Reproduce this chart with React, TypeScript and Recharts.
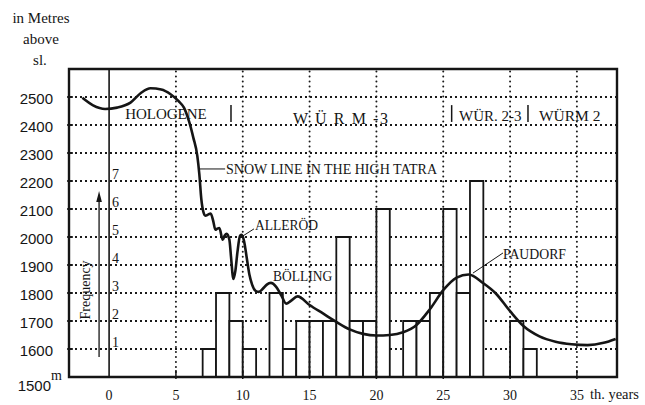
import React from "react";
import {
  ComposedChart,
  Line,
  ReferenceArea,
  ReferenceLine,
  Scatter,
  XAxis,
  YAxis,
} from "recharts";

// snow line in the High Tatra (thousand years BP -> metres a.s.l.)
const snowYears = [
  -2.0, -1.2, -0.3, 0.6, 1.6, 2.4, 3.1, 3.9, 4.6, 5.2, 5.6, 6.0, 6.3, 6.6, 6.75,
  6.9, 7.05, 7.2, 7.4, 7.6, 7.8, 7.95, 8.1, 8.25, 8.5, 8.65, 8.8, 9.0, 9.12, 9.3,
  9.45, 9.6, 9.8, 9.92, 10.1, 10.3, 10.5, 10.7, 10.95, 11.2, 11.5, 11.8, 12.1,
  12.5, 12.9, 13.25, 13.6, 14.1, 15.0, 16.0, 17.0, 18.0, 19.0, 20.0, 21.0, 22.0,
  23.0, 24.0, 25.0, 26.0, 26.9, 28.0, 28.9, 30.0, 31.0, 32.2, 33.4, 34.6, 35.8,
  37.0, 37.9,
];
const snowAltitude = [
  2497, 2470, 2457, 2462, 2480, 2515, 2531, 2527, 2510, 2485, 2462, 2410, 2355,
  2290, 2225, 2135, 2090, 2076, 2080, 2084, 2055, 2026, 2030, 2032, 1990, 2005,
  2011, 1990, 1930, 1850, 1880, 1945, 2005, 2008, 1985, 1925, 1865, 1830, 1808,
  1804, 1815, 1830, 1836, 1822, 1790, 1762, 1772, 1788, 1757, 1727, 1697, 1670,
  1654, 1648, 1650, 1660, 1686, 1742, 1810, 1855, 1866, 1835, 1800, 1735, 1682,
  1645, 1626, 1617, 1614, 1622, 1636,
];

// histogram: start of each 1000-year class and its frequency
const classStart = [7, 8, 9, 10, 12, 13, 14, 15, 16, 17, 18, 19, 20, 22, 23, 24, 25, 26, 27, 30, 31];
const frequency = [1, 3, 2, 1, 3, 1, 2, 2, 2, 5, 2, 2, 6, 2, 2, 3, 6, 3, 7, 2, 1];

const freqLevels = [1, 2, 3, 4, 5, 6, 7];
const altTicks = [1500, 1600, 1700, 1800, 1900, 2000, 2100, 2200, 2300, 2400, 2500];
const yearTicks = [0, 5, 10, 15, 20, 25, 30, 35];

const X_MIN = -3;
const X_MAX = 38;
const Y_MIN = 1500;
const Y_MAX = 2600;
const BASE = 1500;
const STEP = 100;
const DOT_HALF = 3.5; // half thickness of a dotted row, in metres

const SERIF = '"Liberation Serif", "DejaVu Serif", serif';
const SANS = '"Liberation Sans", Arial, sans-serif';
const INK = "#151515";

// vertical dotted grid: round dots every 5px
const dotted = {
  stroke: "#1a1a1a",
  strokeWidth: 2,
  strokeDasharray: "0.01 5",
  strokeLinecap: "round" as const,
};

const snowData = snowYears.map((x, i) => ({ x, y: snowAltitude[i] }));
const freqData = freqLevels.map((n) => ({ x: 0, y: BASE + STEP * n, n }));

// labels placed in chart units
const notes = [
  { x: 1.2, y: 2421, text: "HOLOGENE", size: 15 },
  { x: 13.76, y: 2404, text: "W Ü R M -3", size: 16, spacing: 1.6 },
  { x: 26.18, y: 2416, text: "WÜR. 2-3", size: 15 },
  { x: 32.16, y: 2416, text: "WÜRM 2", size: 15.5 },
  { x: 8.75, y: 2225, text: "SNOW LINE IN THE HIGH TATRA", size: 15, len: 211 },
  { x: 10.92, y: 2025, text: "ALLERÖD", size: 14, len: 63 },
  { x: 12.27, y: 1843, text: "BÖLLING", size: 14, len: 59 },
  { x: 29.47, y: 1921, text: "PAUDORF", size: 14, len: 63 },
];
const dividers = [9.12, 25.63, 31.34];
const leaders = [
  [{ x: 6.73, y: 2243 }, { x: 8.68, y: 2243 }],
  [{ x: 10.02, y: 2004 }, { x: 10.84, y: 2029 }],
  [{ x: 27.22, y: 1871 }, { x: 29.47, y: 1943 }],
];

function AltTick({ x, y, payload }: any) {
  const v = payload.value;
  if (v === BASE) {
    return (
      <g>
        <text x={x - 16} y={y + 14} textAnchor="end" fontFamily={SANS} fontSize={15} fill={INK}>
          {v}
        </text>
        <text x={x - 16} y={y + 3} fontFamily={SERIF} fontSize={14} fill={INK}>
          m
        </text>
      </g>
    );
  }
  return (
    <g>
      <line x1={x} x2={x + 6} y1={y} y2={y} stroke={INK} strokeWidth={1.6} />
      <text x={x - 14} y={y + 7} textAnchor="end" fontFamily={SANS} fontSize={15} fill={INK}>
        {v}
      </text>
    </g>
  );
}

function YearTick({ x, y, payload }: any) {
  const v = payload.value;
  return (
    <g>
      {v !== 0 && <line x1={x} x2={x} y1={y} y2={y - 9} stroke={INK} strokeWidth={1.5} />}
      <text x={x} y={y + 21} textAnchor="middle" fontFamily={SERIF} fontSize={14} fill={INK}>
        {v}
      </text>
      {v === 35 && (
        <text x={x + 13} y={y + 20} fontFamily={SERIF} fontSize={14.5} fill={INK}>
          th. years
        </text>
      )}
    </g>
  );
}

function NoteShape(props: any) {
  const p = props.payload;
  return (
    <text
      x={props.cx}
      y={props.cy}
      fontFamily={SERIF}
      fontSize={p.size}
      letterSpacing={p.spacing}
      textLength={p.len}
      lengthAdjust={p.len ? "spacingAndGlyphs" : undefined}
      fill={INK}
    >
      {p.text}
    </text>
  );
}

function FreqShape(props: any) {
  return (
    <text x={props.cx + 3} y={props.cy - 2.5} fontFamily={SERIF} fontSize={14} fill={INK}>
      {props.payload.n}
    </text>
  );
}

function ArrowHead(props: any) {
  const { cx, cy } = props;
  return <path d={`M${cx},${cy} L${cx - 2.8},${cy + 11} L${cx + 2.8},${cy + 11} Z`} fill={INK} />;
}

function FreqTitle(props: any) {
  const { cx, cy } = props;
  return (
    <text
      x={cx}
      y={cy}
      transform={`rotate(-90 ${cx} ${cy})`}
      textAnchor="middle"
      fontFamily={SERIF}
      fontSize={14}
      fill={INK}
    >
      Frequency
    </text>
  );
}

export default function App() {
  return (
    <div style={{ position: "relative", width: 645, height: 405, background: "#fff" }}>
      <style>{"body{margin:0}"}</style>
      {/* dot pattern used for the horizontal grid rows */}
      <svg width={0} height={0} style={{ position: "absolute", left: 0, top: 0 }}>
        <defs>
          <pattern id="hdots" width={5} height={1} patternUnits="userSpaceOnUse">
            <rect x={0} y={0} width={2} height={1} fill="#1a1a1a" />
          </pattern>
        </defs>
      </svg>
      <svg
        width={90}
        height={70}
        style={{ position: "absolute", left: 0, top: 0 }}
        fontFamily={SERIF}
        fontSize={15}
        fill={INK}
      >
        <text x={41} y={23} textAnchor="middle">in Metres</text>
        <text x={41} y={44} textAnchor="middle">above</text>
        <text x={40} y={65} textAnchor="middle">sl.</text>
      </svg>
      <ComposedChart
        width={645}
        height={405}
        margin={{ top: 69, right: 28, bottom: 0, left: 0 }}
      >
        <XAxis
          type="number"
          dataKey="x"
          domain={[X_MIN, X_MAX]}
          ticks={yearTicks}
          interval={0}
          allowDataOverflow
          axisLine={false}
          tickLine={false}
          tickSize={0}
          height={28}
          tick={<YearTick />}
        />
        <YAxis
          type="number"
          domain={[Y_MIN, Y_MAX]}
          ticks={altTicks}
          interval={0}
          allowDataOverflow
          axisLine={false}
          tickLine={false}
          tickSize={0}
          width={69}
          tick={<AltTick />}
        />
        {altTicks
          .filter((t) => t !== BASE)
          .map((t) => (
            <ReferenceArea
              key={`h${t}`}
              x1={X_MIN}
              x2={X_MAX}
              y1={t - DOT_HALF}
              y2={t + DOT_HALF}
              fill="url(#hdots)"
              fillOpacity={1}
              stroke="none"
              ifOverflow="visible"
            />
          ))}
        {yearTicks
          .filter((t) => t !== 0)
          .map((t) => (
            <ReferenceLine key={`v${t}`} x={t} ifOverflow="visible" {...dotted} />
          ))}
        {classStart.map((s, i) => (
          <ReferenceArea
            key={s}
            x1={s}
            x2={s + 1}
            y1={BASE}
            y2={BASE + STEP * frequency[i]}
            fill="#fff"
            fillOpacity={1}
            stroke={INK}
            strokeWidth={1.8}
            ifOverflow="visible"
          />
        ))}
        <ReferenceLine x={0} stroke={INK} strokeWidth={1.6} />
        <ReferenceArea
          x1={X_MIN}
          x2={X_MAX}
          y1={Y_MIN}
          y2={Y_MAX}
          fill="none"
          fillOpacity={0}
          stroke={INK}
          strokeWidth={2.4}
          ifOverflow="visible"
        />
        {dividers.map((d) => (
          <ReferenceLine
            key={d}
            segment={[{ x: d, y: 2411 }, { x: d, y: 2471 }]}
            stroke={INK}
            strokeWidth={1.5}
          />
        ))}
        {leaders.map((seg, i) => (
          <ReferenceLine key={i} segment={seg} stroke={INK} strokeWidth={1} />
        ))}
        <ReferenceLine
          segment={[{ x: -0.75, y: 1571 }, { x: -0.75, y: 2150 }]}
          stroke={INK}
          strokeWidth={1.3}
        />
        <Line
          data={snowData}
          dataKey="y"
          type="monotone"
          stroke={INK}
          strokeWidth={2.6}
          dot={false}
          isAnimationActive={false}
        />
        <Scatter data={notes} dataKey="y" shape={<NoteShape />} isAnimationActive={false} />
        <Scatter data={freqData} dataKey="y" shape={<FreqShape />} isAnimationActive={false} />
        <Scatter data={[{ x: -0.75, y: 2164 }]} dataKey="y" shape={<ArrowHead />} isAnimationActive={false} />
        <Scatter data={[{ x: -1.42, y: 1811 }]} dataKey="y" shape={<FreqTitle />} isAnimationActive={false} />
      </ComposedChart>
    </div>
  );
}
